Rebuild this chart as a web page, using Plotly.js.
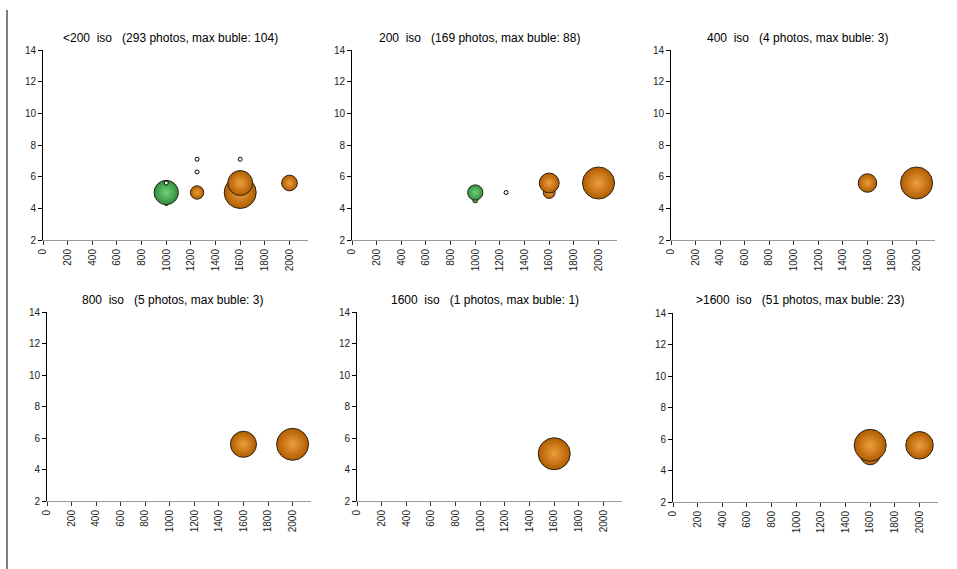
<!DOCTYPE html>
<html>
<head>
<meta charset="utf-8">
<script src="https://cdn.plot.ly/plotly-3.0.1.min.js"></script>
<style>html,body{margin:0;padding:0;background:#fff;}#chart{width:957px;height:569px;}</style>
</head>
<body>
<div id="chart"></div>
<script>
// ---- Data ----
const titles = [
  "&lt;200&nbsp;&nbsp;iso&nbsp;&nbsp;&nbsp;(293 photos, max buble: 104)",
  "200&nbsp;&nbsp;iso&nbsp;&nbsp;&nbsp;(169 photos, max buble: 88)",
  "400&nbsp;&nbsp;iso&nbsp;&nbsp;&nbsp;(4 photos, max buble: 3)",
  "800&nbsp;&nbsp;iso&nbsp;&nbsp;&nbsp;(5 photos, max buble: 3)",
  "1600&nbsp;&nbsp;iso&nbsp;&nbsp;&nbsp;(1 photos, max buble: 1)",
  "&gt;1600&nbsp;&nbsp;iso&nbsp;&nbsp;&nbsp;(51 photos, max buble: 23)"
];
const maxBubble = [104, 88, 3, 3, 1, 23];
const xTicks = [0, 200, 400, 600, 800, 1000, 1200, 1400, 1600, 1800, 2000];

// panel 1 (<200 iso)
const p1GreenX = [1000, 1000], p1GreenY = [4.3, 5.0], p1GreenN = [1, 60];
const p1OrangeX = [1600, 1250, 2000, 1600], p1OrangeY = [5.0, 5.0, 5.6, 5.6], p1OrangeN = [104, 18, 25, 63];
const p1HollowX = [1000, 1250, 1250, 1600], p1HollowY = [5.6, 6.3, 7.1, 7.1], p1HollowN = [1, 1, 1, 1];
// panel 2 (200 iso)
const p2GreenX = [1000, 1000], p2GreenY = [4.5, 5.0], p2GreenN = [2, 20];
const p2OrangeX = [1600, 1600, 2000], p2OrangeY = [5.0, 5.6, 5.6], p2OrangeN = [12, 34, 88];
const p2HollowX = [1250], p2HollowY = [5.0], p2HollowN = [1];
// panel 3 (400 iso)
const p3OrangeX = [1600, 2000], p3OrangeY = [5.6, 5.6], p3OrangeN = [1, 3];
// panel 4 (800 iso)
const p4OrangeX = [1600, 2000], p4OrangeY = [5.6, 5.6], p4OrangeN = [2, 3];
// panel 5 (1600 iso)
const p5OrangeX = [1600], p5OrangeY = [5.0], p5OrangeN = [1];
// panel 6 (>1600 iso)
const p6OrangeX = [1600, 1600, 2000], p6OrangeY = [5.0, 5.6, 5.6], p6OrangeN = [9, 23, 17];

const panelSeries = [
  {green: [p1GreenX, p1GreenY, p1GreenN], orange: [p1OrangeX, p1OrangeY, p1OrangeN], hollow: [p1HollowX, p1HollowY, p1HollowN]},
  {green: [p2GreenX, p2GreenY, p2GreenN], orange: [p2OrangeX, p2OrangeY, p2OrangeN], hollow: [p2HollowX, p2HollowY, p2HollowN]},
  {orange: [p3OrangeX, p3OrangeY, p3OrangeN]},
  {orange: [p4OrangeX, p4OrangeY, p4OrangeN]},
  {orange: [p5OrangeX, p5OrangeY, p5OrangeN]},
  {orange: [p6OrangeX, p6OrangeY, p6OrangeN]}
];

// ---- Layout geometry (pixels) ----
const W = 957, H = 569;
const plotBoxes = [
  {x0: 43, x1: 308, y0: 50, y1: 240, tx: 170, ty: 38},
  {x0: 352, x1: 617, y0: 50, y1: 240, tx: 479, ty: 38},
  {x0: 671, x1: 935, y0: 50, y1: 240, tx: 797, ty: 38},
  {x0: 47, x1: 311, y0: 312, y1: 501, tx: 172, ty: 300},
  {x0: 357, x1: 622, y0: 312, y1: 501, tx: 485, ty: 300},
  {x0: 673, x1: 938, y0: 313, y1: 502, tx: 800, ty: 300}
];
const MAXR = 16;
// edge = marker colour (outer), center = radial gradient colour (centre)
const styles = {
  green: {edge: '#2E8E40', center: '#74D274'},
  orange: {edge: '#B05C00', center: '#EE9E3C'},
  hollow: {edge: '#FFFFFF', center: null}
};
const order = ['green', 'orange', 'hollow'];

const traces = [];
const layout = {
  width: W, height: H,
  margin: {l: 0, r: 0, t: 0, b: 0},
  paper_bgcolor: '#fff', plot_bgcolor: '#fff',
  showlegend: false, hovermode: false,
  font: {family: 'Liberation Sans, Arial, sans-serif', color: '#000'},
  annotations: [],
  shapes: [{type: 'line', xref: 'paper', yref: 'paper', x0: 7 / W, x1: 7 / W, y0: 1 - 10 / H, y1: 0,
            line: {color: '#000', width: 1}}]
};

plotBoxes.forEach((b, i) => {
  const k = i === 0 ? '' : String(i + 1);
  const sizeref = maxBubble[i] / (2 * MAXR * MAXR);
  order.forEach(name => {
    const s = panelSeries[i][name];
    if (!s) return;
    const st = styles[name];
    const marker = {
      size: s[2], sizemode: 'area', sizeref: sizeref, sizemin: 2,
      color: st.edge, opacity: 1,
      line: {color: name === 'hollow' ? '#000' : '#2a2214', width: 1}
    };
    if (st.center) marker.gradient = {type: 'radial', color: st.center};
    traces.push({
      type: 'scatter', mode: 'markers',
      x: s[0], y: s[1],
      xaxis: 'x' + k, yaxis: 'y' + k,
      marker: marker, cliponaxis: false
    });
  });
  layout['xaxis' + k] = {
    domain: [b.x0 / W, b.x1 / W], anchor: 'y' + k,
    range: [0, 2150], tickvals: xTicks, ticktext: xTicks.map(String),
    tickangle: -90, ticks: 'outside', ticklen: 4, tickcolor: '#333',
    showline: true, linecolor: '#9a9a9a', linewidth: 1,
    showgrid: false, zeroline: false, fixedrange: true,
    tickfont: {size: 10, color: '#222', family: 'Liberation Sans, Arial, sans-serif'}
  };
  layout['yaxis' + k] = {
    domain: [1 - b.y1 / H, 1 - b.y0 / H], anchor: 'x' + k,
    range: [2, 14], tickvals: [2, 4, 6, 8, 10, 12, 14],
    ticks: 'outside', ticklen: 4, tickcolor: '#000',
    showline: true, linecolor: '#000', linewidth: 1,
    showgrid: false, zeroline: false, fixedrange: true,
    tickfont: {size: 10, color: '#222', family: 'Liberation Sans, Arial, sans-serif'}
  };
  layout.annotations.push({
    xref: 'paper', yref: 'paper', x: b.tx / W, y: 1 - b.ty / H,
    xanchor: 'center', yanchor: 'middle', showarrow: false,
    text: titles[i],
    font: {size: 12, color: '#000', family: 'Liberation Sans, Arial, sans-serif'}
  });
});

Plotly.newPlot('chart', traces, layout, {staticPlot: true, displayModeBar: false});
</script>
</body>
</html>
